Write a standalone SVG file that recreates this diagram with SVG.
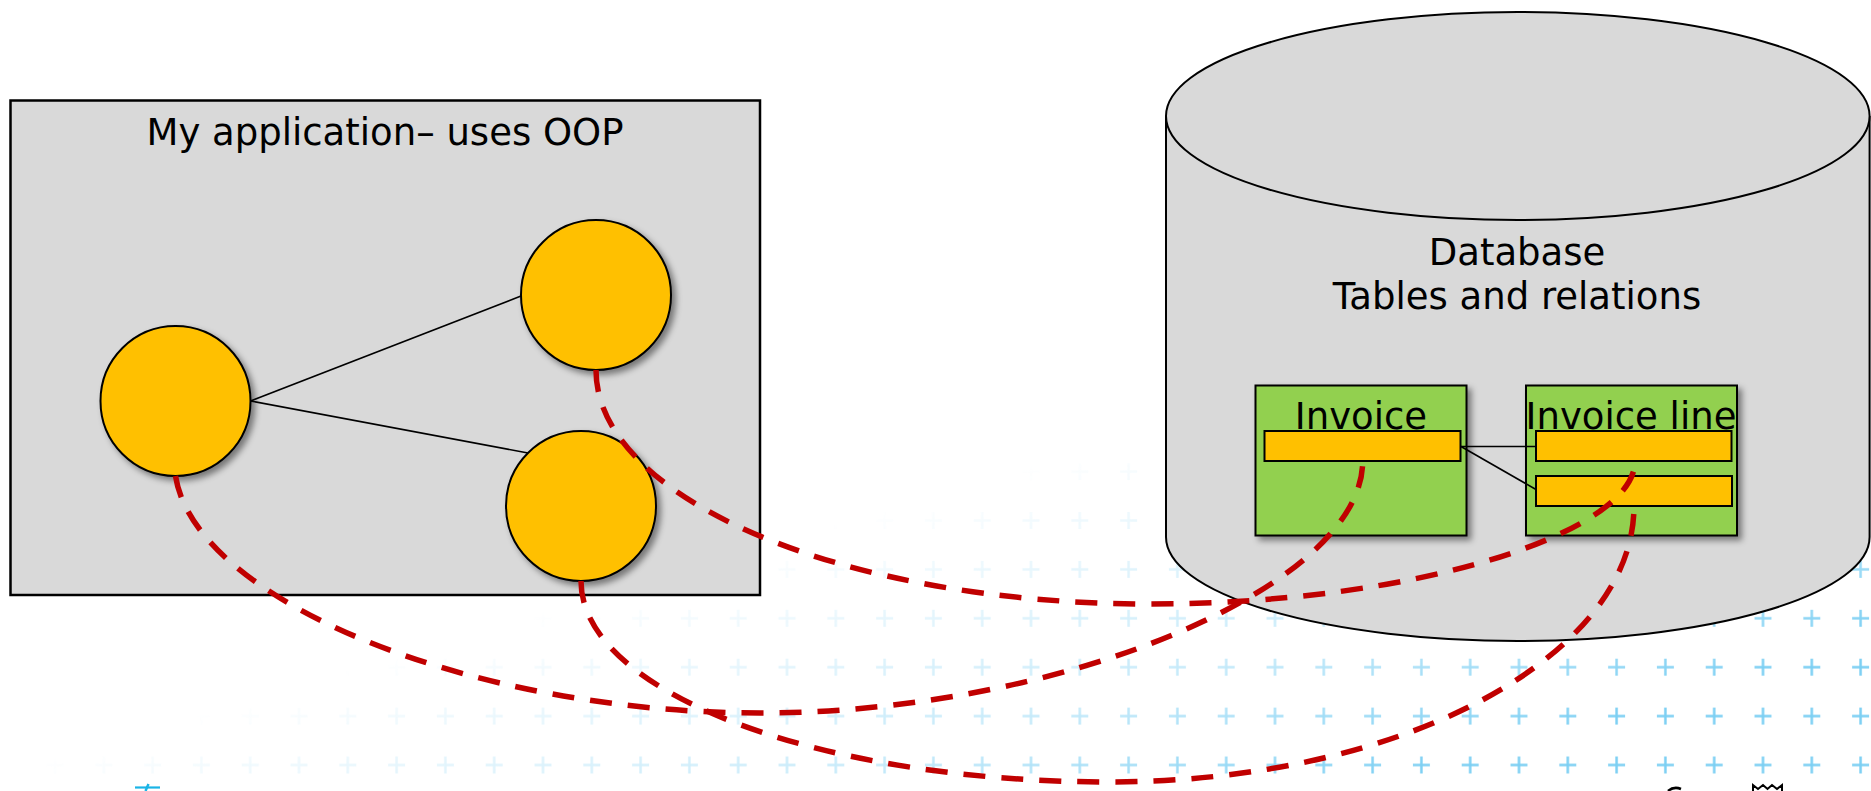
<svg xmlns="http://www.w3.org/2000/svg" width="1871" height="791" viewBox="0 0 1871 791">
  <style>
    .lbl { font-family: "DejaVu Sans", "Liberation Sans", sans-serif; font-size: 37px; fill: #000; text-anchor: middle; }
    .obj { fill: #ffc000; stroke: #000; stroke-width: 2; }
    .tbl { fill: #92d050; stroke: #000; stroke-width: 2; }
    .bar { fill: #ffc000; stroke: #000; stroke-width: 2; }
    .gray { fill: #d9d9d9; stroke: #000; stroke-width: 2; }
    .rel { stroke: #000; stroke-width: 1.6; fill: none; }
    .map { stroke: #c00000; stroke-width: 5.5; fill: none; stroke-dasharray: 22 16; }
  </style>
  <defs>
    <filter id="shadow" x="-20%" y="-20%" width="150%" height="150%">
      <feDropShadow dx="4" dy="4" stdDeviation="3" flood-color="#000" flood-opacity="0.45"/>
    </filter>
    <pattern id="plus" patternUnits="userSpaceOnUse" x="30.6" y="740.55" width="48.8" height="48.9">
      <rect x="15.9" y="23.2" width="17" height="2.5" fill="#7ccff3"/>
      <rect x="23.15" y="15.95" width="2.5" height="17" fill="#7ccff3"/>
    </pattern>
    <linearGradient id="fade" gradientUnits="userSpaceOnUse" x1="30" y1="765" x2="159" y2="1196">
      <stop offset="0" stop-color="#fff" stop-opacity="0"/>
      <stop offset="0.55" stop-color="#fff" stop-opacity="0.45"/>
      <stop offset="0.9" stop-color="#fff" stop-opacity="1"/>
    </linearGradient>
    <mask id="fadeMask" maskUnits="userSpaceOnUse" x="0" y="440" width="1871" height="351">
      <rect x="0" y="440" width="1871" height="351" fill="url(#fade)"/>
    </mask>
  </defs>

  <rect x="0" y="0" width="1871" height="791" fill="#fff"/>

  <g id="background">
    <rect x="0" y="445" width="1871" height="346" fill="url(#plus)" mask="url(#fadeMask)"/>
  </g>

  <g id="footer">
    <line x1="135" y1="787.5" x2="160" y2="787.5" stroke="#1ab4e6" stroke-width="2.2"/>
    <line x1="148.5" y1="784" x2="145.5" y2="791" stroke="#1ab4e6" stroke-width="2.5"/>
    <path d="M1668,791 Q1674,786 1681,789" fill="none" stroke="#000" stroke-width="2.5"/>
    <path d="M1753,791 L1753,785 L1758,789 L1763,785 L1767.5,789 L1772,785 L1777,789 L1782,785 L1782,791" fill="none" stroke="#000" stroke-width="2"/>
  </g>

  <g id="application">
    <rect class="gray" x="10.5" y="100.5" width="749.5" height="494.5" style="stroke-width:2.5"/>
    <text class="lbl" x="385" y="145">My application– uses OOP</text>
  </g>

  <g id="database">
    <path class="gray" d="M1166,116 L1166,537 A351.8,104 0 0 0 1869.6,537 L1869.6,116"/>
    <ellipse class="gray" cx="1517.8" cy="116" rx="351.8" ry="104"/>
    <text class="lbl" x="1517" y="265">Database</text>
    <text class="lbl" x="1517" y="309">Tables and relations</text>
  </g>

  <g id="connectors-relations">
    <line class="rel" x1="250.5" y1="401" x2="521" y2="296"/>
    <line class="rel" x1="250.5" y1="401" x2="528" y2="453"/>
  </g>

  <g id="object1"><circle class="obj" cx="175.5" cy="401" r="75" filter="url(#shadow)"/></g>
  <g id="object2"><circle class="obj" cx="596" cy="295" r="75" filter="url(#shadow)"/></g>
  <g id="object3"><circle class="obj" cx="581" cy="506" r="75" filter="url(#shadow)"/></g>

  <g id="table-invoice">
    <rect class="tbl" x="1255.5" y="385.5" width="211" height="150" filter="url(#shadow)"/>
    <text class="lbl" x="1361" y="429">Invoice</text>
    <rect class="bar" x="1264.5" y="431" width="196" height="30"/>
  </g>

  <g id="table-invoice-line">
    <rect class="tbl" x="1526" y="385.5" width="211" height="150" filter="url(#shadow)"/>
    <text class="lbl" x="1631" y="429">Invoice line</text>
    <rect class="bar" x="1536" y="431" width="195.5" height="30"/>
    <rect class="bar" x="1536" y="476" width="196" height="30"/>
  </g>

  <g id="connectors">
    <line class="rel" x1="1461" y1="446.5" x2="1536" y2="446.5"/>
    <line class="rel" x1="1461" y1="446.5" x2="1536" y2="489.5"/>
    <path class="map" d="M596,370 C596,499 844,604 1150,604 C1418,604 1635,532 1635,461"/>
    <path class="map" d="M175.5,476 C195,600 470,713 760,713 C1061,713 1362.7,587 1362.7,461"/>
    <path class="map" d="M581,581 C581,692 818,782 1110,782 C1399,782 1634,658 1634,506"/>
  </g>
</svg>
